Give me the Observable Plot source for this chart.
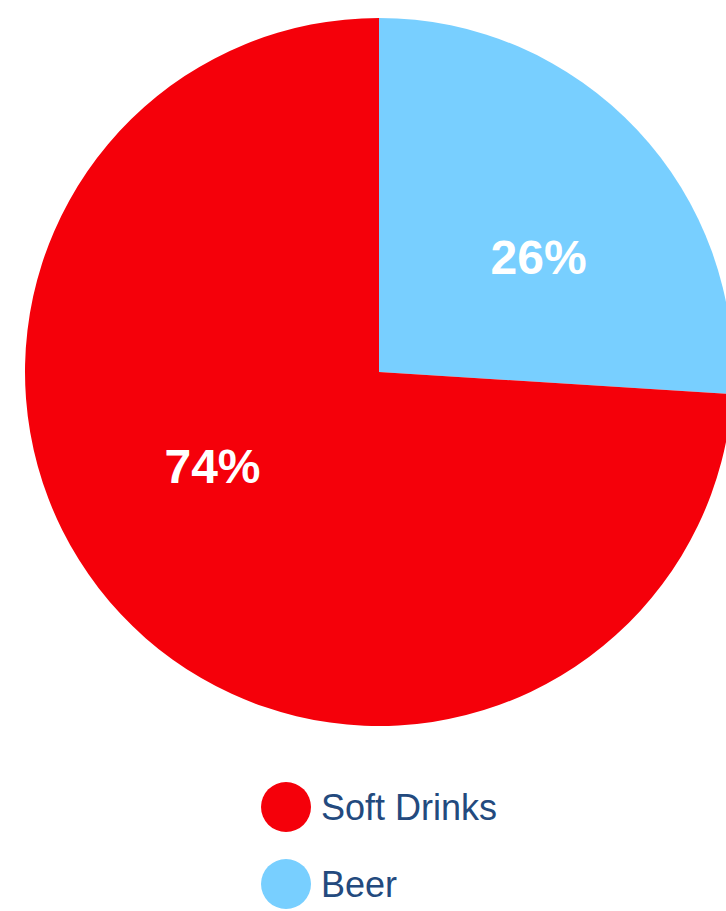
<!DOCTYPE html>
<html>
<head>
<meta charset="utf-8">
<script src="https://cdn.jsdelivr.net/npm/d3@7"></script>
<script src="https://cdn.jsdelivr.net/npm/@observablehq/plot@0.6"></script>
<style>
  body { margin: 0; background: #fff; font-family: "Liberation Sans", Arial, sans-serif; }
  #legend { margin-top: 37px; }
  .item { display: flex; align-items: center; margin-left: 261px; height: 50px; margin-bottom: 27px; }
  .sw { width: 50px; height: 50px; border-radius: 50%; flex: none; }
  .lab { margin-left: 10px; font-size: 36px; color: #234a7e; line-height: 36px; padding-top: 2px; }
</style>
</head>
<body>
<div id="chart"></div>
<div id="legend"></div>
<script>
// ---- data ----
const categories = ["Soft Drinks", "Beer"];
const values = [74, 26];
const labels = ["74%", "26%"];
const colors = ["#f5000a", "#78cfff"];

const table = categories.map((c, i) => ({category: c, value: values[i], label: labels[i]}));
// Beer is drawn first, starting at 12 o'clock and running clockwise
const arcs = d3.pie().sort(null).value(d => d.value)(table.slice().reverse());
const unitArc = d3.arc().innerRadius(0).outerRadius(1);
const labelData = arcs.map(a => {
  const c = unitArc.centroid(a);
  return {category: a.data.category, label: a.data.label, cx: c[0], cy: -c[1]};
});

function pieMark(index, scales, channels, dims, context) {
  const doc = (context && context.document) || document;
  const g = d3.select(doc.createElementNS("http://www.w3.org/2000/svg", "g"));
  const cx = scales.x(0), cy = scales.y(0);
  const r = scales.x(1) - scales.x(0);
  const color = typeof scales.color === "function" ? scales.color : d3.scaleOrdinal(categories, colors);
  const arc = d3.arc().innerRadius(0).outerRadius(r);
  g.attr("transform", `translate(${cx},${cy})`);
  g.selectAll("path").data(arcs).join("path")
    .attr("d", arc)
    .attr("fill", d => color(d.data.category));
  return g.node();
}

const textOpts = {
  x: "cx", y: "cy", text: "label", fill: "white",
  fontSize: 48, fontWeight: "bold", fontFamily: "Liberation Sans, Arial, sans-serif"
};

const chart = Plot.plot({
  width: 726,
  height: 745,
  margin: 0,
  style: {fontFamily: "Liberation Sans, Arial, sans-serif", background: "white"},
  x: {type: "linear", domain: [-1, 1], range: [25, 733], axis: null},
  y: {type: "linear", domain: [-1, 1], range: [726, 18], axis: null},
  color: {type: "ordinal", domain: categories, range: colors},
  marks: [
    pieMark,
    Plot.text(labelData.filter(d => d.category === "Beer"), {...textOpts, dx: 30, dy: 7}),
    Plot.text(labelData.filter(d => d.category === "Soft Drinks"), {...textOpts, dx: -38, dy: -26})
  ]
});
document.getElementById("chart").appendChild(chart);

const legend = document.getElementById("legend");
categories.forEach((c, i) => {
  const item = document.createElement("div");
  item.className = "item";
  const sw = document.createElement("div");
  sw.className = "sw";
  sw.style.background = colors[i];
  const lab = document.createElement("div");
  lab.className = "lab";
  lab.textContent = c;
  item.appendChild(sw);
  item.appendChild(lab);
  legend.appendChild(item);
});
</script>
</body>
</html>
